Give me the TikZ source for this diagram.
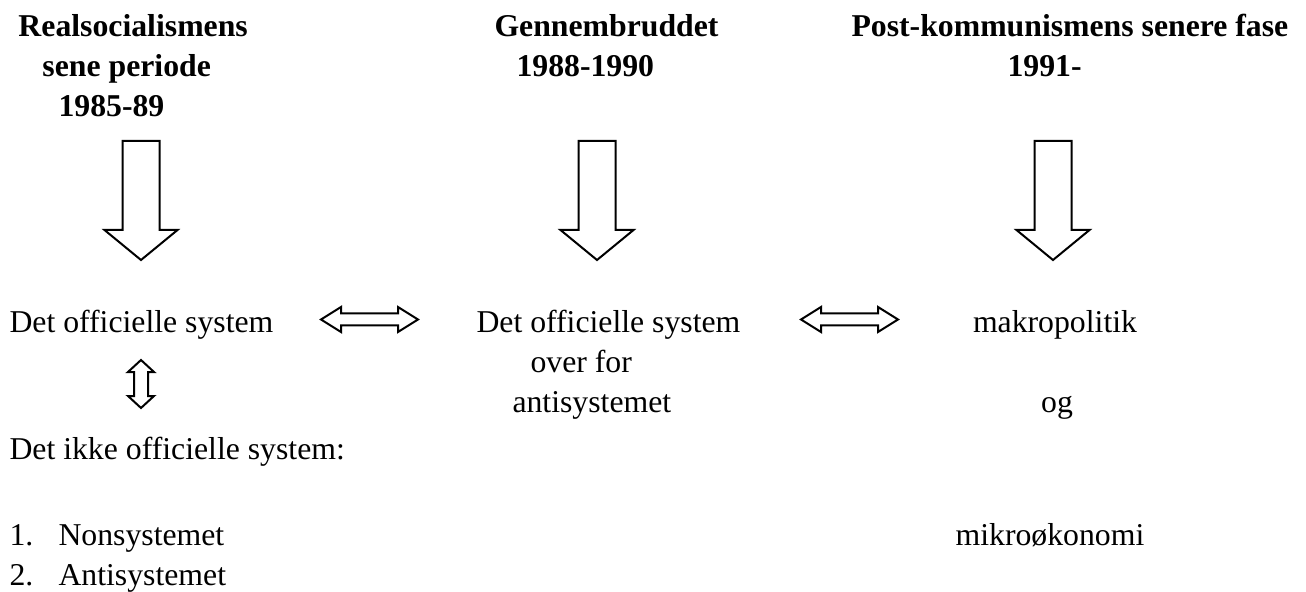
\documentclass[tikz,border=0pt]{standalone}
\usepackage{fontspec}
\setmainfont{Liberation Serif}
\usetikzlibrary{positioning, calc}
\tikzset{
    txt/.style={inner sep=0pt, anchor=base west,
                font=\fontsize{12.7}{15}\selectfont},
    head/.style={txt, font=\fontsize{12.7}{15}\selectfont\bfseries},
    blockarrow/.style={draw, thick, fill=white, line join=miter},
}

\begin{document}
\begin{tikzpicture}[x=0.4pt, y=-0.4pt]
    \useasboundingbox (0,0) rectangle (1306,592);
    % headings
    \node[head] (real1) at (18,37) {Realsocialismens};
    \node[head] (real2) at (42,77) {sene periode};
    \node[head] (real3) at (58,117) {1985-89};
    \node[head] (gen1) at (494,37) {Gennembruddet};
    \node[head] (gen2) at (516,77) {1988-1990};
    \node[head] (post1) at (851,37) {Post-kommunismens senere fase};
    \node[head] (post2) at (1007,77) {1991-};
    % big down arrows
    \foreach \x in {141, 597, 1053} {
        \draw[blockarrow] (\x-18.5,141) -- (\x+18.5,141) -- (\x+18.5,230)
            -- (\x+36.5,230) -- (\x,260) -- (\x-36.5,230) -- (\x-18.5,230) -- cycle;
    }
    % texts
    \node[txt] (off1) at (9,333) {Det officielle system};
    \node[txt] (off2) at (476,333) {Det officielle system};
    \node[txt] (over) at (530,372) {over for};
    \node[txt] (anti) at (512,413) {antisystemet};
    \node[txt, anchor=base] (makro) at (1055,333) {makropolitik};
    \node[txt, anchor=base] (og) at (1057,413) {og};
    \node[txt, anchor=base] (mikro) at (1050,545) {mikroøkonomi};
    \node[txt] (ikke) at (9,459) {Det ikke officielle system:};
    \node[txt] (num1) at (9,545) {1.};
    \node[txt] (non) at (58,545) {Nonsystemet};
    \node[txt] (num2) at (9,585) {2.};
    \node[txt] (ant) at (58,585) {Antisystemet};
    % double arrows
    \foreach \a in {321, 801} {
        \draw[blockarrow] (\a,319.5) -- (\a+20,307) -- (\a+20,313.5) -- (\a+77,313.5)
            -- (\a+77,307) -- (\a+97,319.5) -- (\a+77,332) -- (\a+77,325.5)
            -- (\a+20,325.5) -- (\a+20,332) -- cycle;
    }
    \draw[blockarrow] (141,360) -- (154,372) -- (148,372) -- (148,396) -- (154,396)
        -- (141,408) -- (128,396) -- (134,396) -- (134,372) -- (128,372) -- cycle;
\end{tikzpicture}
\end{document}
